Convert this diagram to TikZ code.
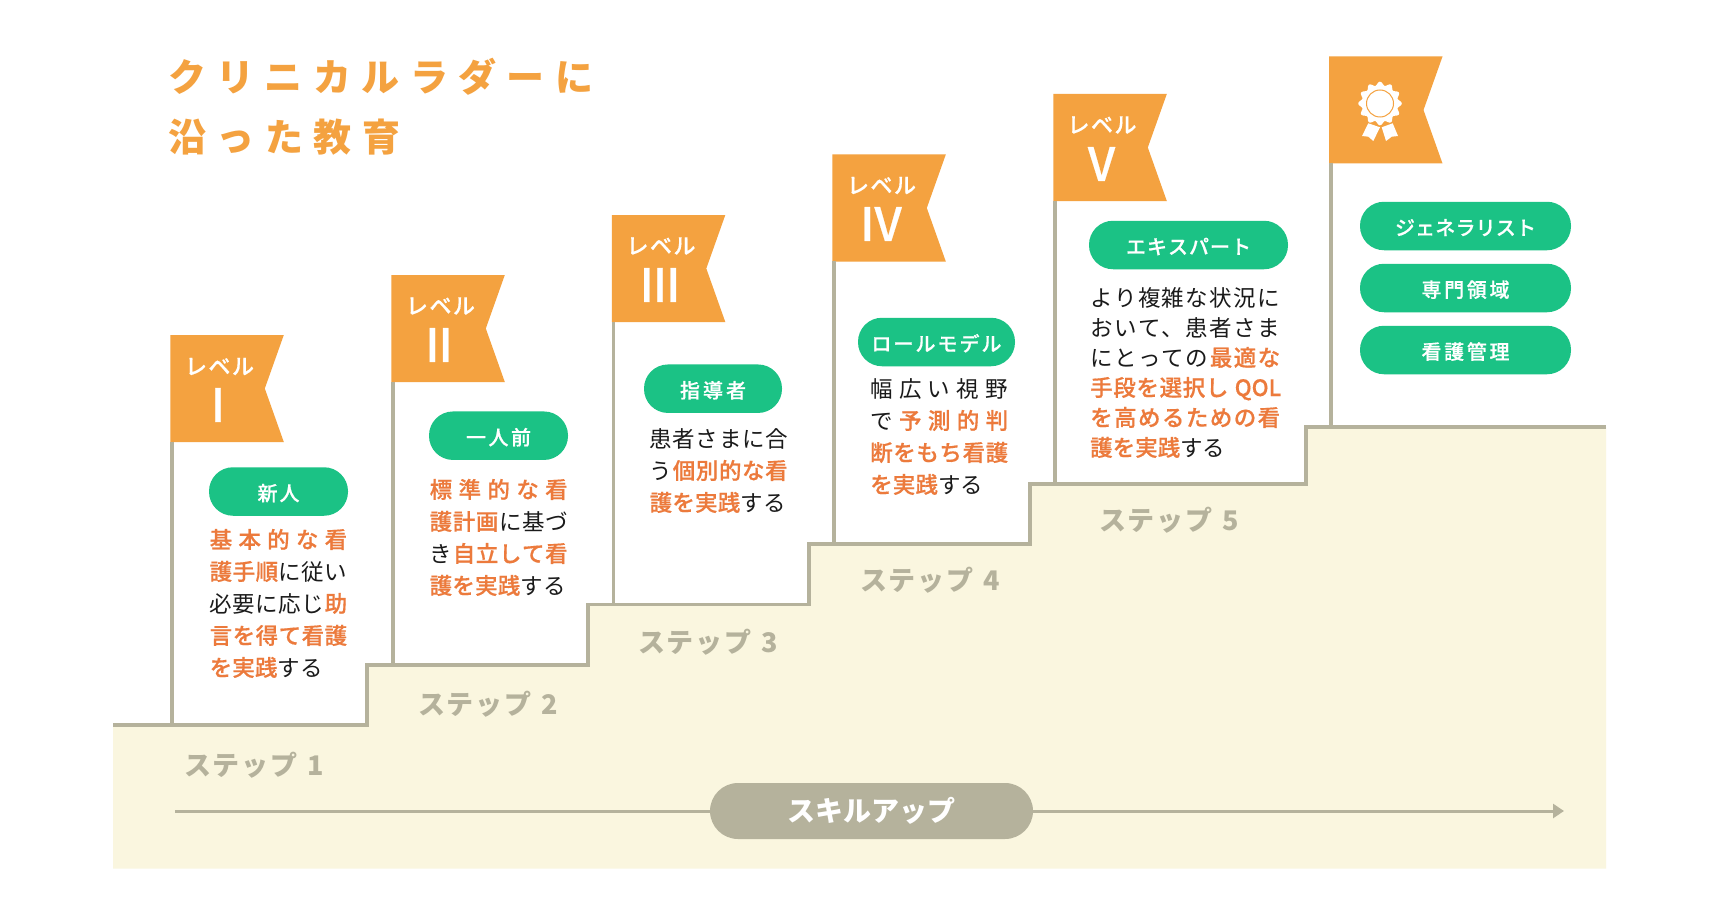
\documentclass[tikz,border=0pt]{standalone}
\usepackage{fontspec}
\setmainfont{Noto Sans CJK JP}
\newfontfamily\mdf[FakeBold=0.5]{Noto Sans CJK JP Medium}
\usetikzlibrary{arrows.meta,calc}
\definecolor{cream}{HTML}{FAF6DF}
\definecolor{stone}{HTML}{B5B29C}
\definecolor{flagor}{HTML}{F4A240}
\definecolor{hl}{HTML}{EC7A3C}
\definecolor{pillg}{HTML}{1BC285}
\definecolor{ink}{HTML}{1A1A1A}
\makeatletter
\def\Sp#1{\@tfor\x:=#1\do{\x\hfil}}
\makeatother
\def\jl#1#2{\hbox to #1pt{#2\hskip 0pt plus -1fil}}
\def\Oc#1{\begingroup\color{hl}\mdf\Sp{#1}\endgroup}
\def\Kc#1{\Sp{#1}}
\def\blk#1#2{\vtop{\fontsize{22.5}{#1}\selectfont\baselineskip=#1pt\lineskiplimit=-100pt\relax #2}}
\def\pt#1#2{\raisebox{-9.2pt}[0pt][0pt]{\jl{#1}{\Sp{#2}}}}
\tikzset{
  x=1pt,y=-1pt,
  pill/.style={fill=pillg,text=white,rounded corners=24pt,inner sep=0pt,minimum height=48.5pt,font=\fontsize{20}{24}\selectfont\mdf},
  flagshape/.style={fill=flagor},
  pole/.style={draw=stone,line width=3.4pt},
  stair/.style={draw=stone,line width=3.2pt,line join=miter},
  lvl/.style={text=white,inner sep=0pt,font=\fontsize{22}{24}\selectfont\mdf},
  rom/.style={text=white,inner sep=0pt,font=\fontsize{46}{50}\selectfont\mdf},
  steplbl/.style={text=stone,inner sep=0pt,font=\fontsize{27}{30}\selectfont\bfseries},
  blocktext/.style={anchor=base west,inner sep=0pt,text=ink},
}
\newcommand{\flagat}[3]{%
  \fill[flagshape] (#1,#2) -- ++(113.5,0) -- ++(-19,53.5) -- ++(19,53.5) -- ++(-113.5,0) -- cycle;
  \coordinate (#3) at (#1+2,#2+107);
}
\begin{document}
\begin{tikzpicture}
\useasboundingbox (0,0) rectangle (1720,920);
\fill[white] (0,0) rectangle (1720,920);
\fill[cream] (113,725) -- (367,725) -- (367,665) -- (588,665) -- (588,604.5) -- (809,604.5) -- (809,544) -- (1030,544) -- (1030,484) -- (1306,484) -- (1306,427) -- (1606,427) -- (1606,868.5) -- (113,868.5) -- cycle;
\draw[stair] (113,725) -- (367,725) -- (367,665) -- (588,665) -- (588,604.5) -- (809,604.5) -- (809,544) -- (1030,544) -- (1030,484) -- (1306,484) -- (1306,427) -- (1606,427);
\flagat{170.3}{335}{f1}
\flagat{391.3}{275}{f2}
\flagat{611.8}{215}{f3}
\flagat{832.3}{154.5}{f4}
\flagat{1053.3}{94}{f5}
\flagat{1329}{56.5}{f6}
\coordinate (g1) at (172,725);
\coordinate (g2) at (393,665);
\coordinate (g3) at (613.5,604.5);
\coordinate (g4) at (834,544);
\coordinate (g5) at (1055,484);
\coordinate (g6) at (1331,427);
\draw[pole] (172,442) -- (g1);
\draw[pole] (393,382) -- (g2);
\draw[pole] (613.5,322) -- (g3);
\draw[pole] (834,261) -- (g4);
\draw[pole] (1055,201) -- (g5);
\draw[pole] (1331,163) -- (g6);
\node[anchor=base west,inner sep=0pt,text=flagor] (title) at (168,92) {\vtop{\fontsize{38}{60}\selectfont\bfseries\baselineskip=60pt\lineskiplimit=-100pt\relax
  \jl{425}{\Sp{クリニカルラダーに}}
  \jl{232}{\Sp{沿った教育}}}};
\node[lvl] (l1) at (219.5,366.5) {\jl{69}{\Sp{レベル}}};
\node[rom] (r1) at (218,405) {I};
\node[lvl] (l2) at (440.5,306) {\jl{69}{\Sp{レベル}}};
\node[rom] (r2) at (439,345) {I\kern-1ptI};
\node[lvl] (l3) at (661,246) {\jl{69}{\Sp{レベル}}};
\node[rom] (r3) at (660,285) {I\kern-1ptI\kern-1ptI};
\node[lvl] (l4) at (881.5,185.5) {\jl{69}{\Sp{レベル}}};
\node[rom] (r4) at (881,224) {IV};
\node[lvl] (l5) at (1102,125) {\jl{69}{\Sp{レベル}}};
\node[rom] (r5) at (1101.5,164) {V};
\fill[white,smooth,samples=120,domain=0:360] plot ({1380+(20+1.8*cos(12*\x))*cos(\x)},{103.5+(20+1.8*cos(12*\x))*sin(\x)}) -- cycle;
\draw[flagor,line width=1pt] (1380,103.5) circle (13.5);
\fill[white] (1368.3,123.3) -- (1380,127.3) -- (1373.3,141) -- (1368.3,136.7) -- (1362,136) -- cycle;
\fill[white] (1381.7,127.3) -- (1392.7,123.3) -- (1398,136) -- (1391.7,136.7) -- (1386,141) -- cycle;
\node[pill,minimum width=139pt] (p1) at (278.5,491.5) {\pt{42}{新人}};
\node[pill,minimum width=139pt] (p2) at (498.5,435.7) {\pt{65}{一人前}};
\node[pill,minimum width=138pt] (p3) at (713,388.7) {\pt{66}{指導者}};
\node[pill,minimum width=157pt] (p4) at (936.5,342) {\pt{130}{ロールモデル}};
\node[pill,minimum width=199pt] (p5) at (1188.5,245) {\pt{125}{エキスパート}};
\node[pill,minimum width=211pt] (p6) at (1465.5,226) {\pt{141}{ジェネラリスト}};
\node[pill,minimum width=211pt] (p7) at (1465.5,288) {\pt{88}{専門領域}};
\node[pill,minimum width=211pt] (p8) at (1465.5,350) {\pt{88}{看護管理}};
\node[blocktext] (b1) at (209.5,548) {\blk{32}{%
  \jl{137.5}{\Oc{基本的な看}}
  \jl{137.5}{\Oc{護手順}\Kc{に従い}}
  \jl{137.5}{\Kc{必要に応じ}\Oc{助}}
  \jl{137.5}{\Oc{言を得て看護}}
  \jl{113}{\Oc{を実践}\Kc{する}}}};
\node[blocktext] (b2) at (429.5,498) {\blk{32}{%
  \jl{138}{\Oc{標準的な看}}
  \jl{138}{\Oc{護計画}\Kc{に基づ}}
  \jl{138}{\Kc{き}\Oc{自立して看}}
  \jl{136}{\Oc{護を実践}\Kc{する}}}};
\node[blocktext] (b3) at (649.5,447) {\blk{32}{%
  \jl{138}{\Kc{患者さまに合}}
  \jl{138}{\Kc{う}\Oc{個別的な看}}
  \jl{136}{\Oc{護を実践}\Kc{する}}}};
\node[blocktext] (b4) at (870,397) {\blk{32}{%
  \jl{138}{\Kc{幅広い視野}}
  \jl{138}{\Kc{で}\Oc{予測的判}}
  \jl{138}{\Oc{断をもち看護}}
  \jl{113}{\Oc{を実践}\Kc{する}}}};
\node[blocktext] (b5) at (1090,306) {\blk{30}{%
  \jl{190}{\Kc{より複雑な状況に}}
  \jl{190}{\Kc{おいて、患者さま}}
  \jl{190}{\Kc{にとっての}\Oc{最適な}}
  \jl{191}{\Oc{手段を選択し{ }{QOL}}}
  \jl{190}{\Oc{を高めるための看}}
  \jl{131}{\Oc{護を実践}\Kc{する}}}};
\node[steplbl] (s1) at (254,765) {\jl{140}{\Sp{ステップ{ }1}}};
\node[steplbl] (s2) at (488,704) {\jl{140}{\Sp{ステップ{ }2}}};
\node[steplbl] (s3) at (708,642) {\jl{140}{\Sp{ステップ{ }3}}};
\node[steplbl] (s4) at (930,580) {\jl{140}{\Sp{ステップ{ }4}}};
\node[steplbl] (s5) at (1169,520) {\jl{140}{\Sp{ステップ{ }5}}};
\coordinate (a0) at (175,811);
\coordinate (a1) at (1564,811);
\node[fill=stone,text=white,rounded corners=28pt,minimum width=323pt,minimum height=56pt,inner sep=0pt,font=\fontsize{28}{32}\selectfont\bfseries] (up) at (871.5,811) {\jl{169}{\Sp{スキルアップ}}};
\draw[stone,line width=3pt] (a0) -- (up);
\draw[stone,line width=3pt,-{Triangle[length=11pt,width=14pt]}] (up) -- (a1);
\end{tikzpicture}
\end{document}
